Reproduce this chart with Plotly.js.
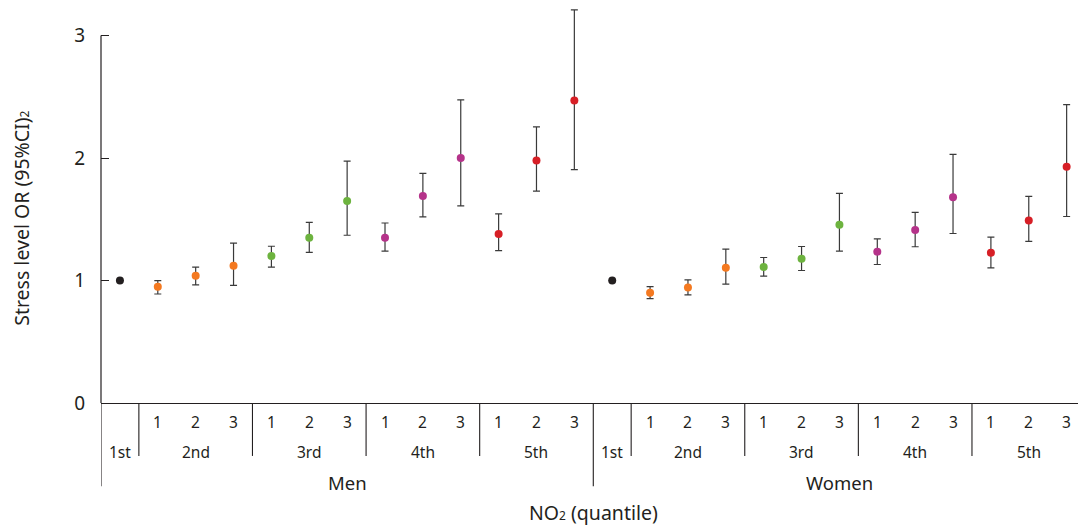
<!DOCTYPE html>
<html>
<head>
<meta charset="utf-8">
<script src="https://cdn.plot.ly/plotly-3.0.1.min.js"></script>
<style>
html,body{margin:0;padding:0;background:#fff;}
#chart{width:1078px;height:526px;}
</style>
</head>
<body>
<div id="chart"></div>
<script>
// ---- data ----
const sexes = ["Men", "Women"];
const quantiles = ["1st", "2nd", "3rd", "4th", "5th"];
const subLevels = ["1", "2", "3"];

const menOR    = [1.00, 0.95, 1.04, 1.12, 1.20, 1.35, 1.65, 1.35, 1.69, 2.00, 1.38, 1.98, 2.47];
const menLow   = [1.00, 0.89, 0.965, 0.96, 1.11, 1.23, 1.37, 1.24, 1.52, 1.61, 1.245, 1.73, 1.905];
const menHigh  = [1.00, 1.00, 1.11, 1.305, 1.28, 1.475, 1.975, 1.47, 1.875, 2.475, 1.545, 2.255, 3.21];

const womenOR   = [1.00, 0.90, 0.943, 1.105, 1.11, 1.177, 1.455, 1.235, 1.412, 1.68, 1.227, 1.49, 1.93];
const womenLow  = [1.00, 0.853, 0.883, 0.97, 1.036, 1.082, 1.24, 1.131, 1.276, 1.384, 1.104, 1.319, 1.523];
const womenHigh = [1.00, 0.951, 1.006, 1.257, 1.188, 1.278, 1.711, 1.341, 1.556, 2.03, 1.355, 1.687, 2.437];

const quantileColors = {"1st": "#231f20", "2nd": "#f47920", "3rd": "#6db33f", "4th": "#b5338a", "5th": "#d71f26"};

// ---- build categories ----
const cats = [], subText = [], qOf = [];
sexes.forEach(s => {
  quantiles.forEach(q => {
    if (q === "1st") { cats.push(s + " " + q); subText.push(""); qOf.push(q); }
    else subLevels.forEach(l => { cats.push(s + " " + q + "-" + l); subText.push(l); qOf.push(q); });
  });
});
const orAll = menOR.concat(womenOR);
const lowAll = menLow.concat(womenLow);
const highAll = menHigh.concat(womenHigh);
const colors = qOf.map(q => quantileColors[q]);

const trace = {
  type: "scatter", mode: "markers",
  x: cats, y: orAll,
  marker: {color: colors, size: 8},
  cliponaxis: false,
  error_y: {
    type: "data", symmetric: false,
    array: highAll.map((h, i) => h - orAll[i]),
    arrayminus: lowAll.map((l, i) => orAll[i] - l),
    color: "#3a3a3a", thickness: 1.2, width: 3.5
  },
  hoverinfo: "x+y"
};

// ---- annotations and separators ----
const font = {family: "Noto Sans, Open Sans, sans-serif", color: "#231f20"};
const annotations = [];
const shapes = [];
const perSex = cats.length / sexes.length;
const ySub = -0.047, yQ = -0.123, ySex = -0.201, yTitle = -0.275;
const yShort = -0.133, yLong = -0.209;

cats.forEach((c, i) => {
  if (subText[i]) annotations.push({x: i, y: ySub, xref: "x", yref: "paper", text: subText[i], showarrow: false, font: Object.assign({size: 15.5}, font), yanchor: "middle"});
});
sexes.forEach((s, si) => {
  const base = si * perSex;
  annotations.push({x: base + (perSex - 1) / 2, y: ySex, xref: "x", yref: "paper", text: s, showarrow: false, font: Object.assign({size: 18.5}, font), yanchor: "middle"});
  shapes.push({type: "line", xref: "x", yref: "paper", x0: base - 0.5, x1: base - 0.5, y0: 0, y1: yLong, line: {color: "#231f20", width: 1.1}});
  let idx = base;
  quantiles.forEach(q => {
    const n = q === "1st" ? 1 : subLevels.length;
    annotations.push({x: idx + (n - 1) / 2, y: yQ, xref: "x", yref: "paper", text: q, showarrow: false, font: Object.assign({size: 15.5}, font), yanchor: "middle"});
    if (q !== "1st") shapes.push({type: "line", xref: "x", yref: "paper", x0: idx - 0.5, x1: idx - 0.5, y0: 0, y1: yShort, line: {color: "#231f20", width: 1.1}});
    idx += n;
  });
});
// x-axis title
annotations.push({x: cats.length / 2 - 0.5, y: yTitle, xref: "x", yref: "paper", text: "NO<span style=\"font-size:12px\">2</span> (quantile)", showarrow: false, font: Object.assign({size: 19.5}, font), yanchor: "middle", borderpad: 0});
// y-axis title
annotations.push({x: -0.081, y: 0.465, xref: "paper", yref: "paper", text: "Stress level OR (95%CI)<span style=\"font-size:12px\">2</span>", textangle: -90, showarrow: false, font: Object.assign({size: 19.5}, font), xanchor: "center", yanchor: "middle"});
// y-axis line from 0 to 3
shapes.push({type: "line", xref: "paper", yref: "y", x0: 0, x1: 0, y0: 0, y1: 3, line: {color: "#231f20", width: 1.2}});

const layout = {
  width: 1078, height: 526,
  margin: {l: 101, r: 0, t: 5, b: 123},
  paper_bgcolor: "#fff", plot_bgcolor: "#fff",
  showlegend: false,
  xaxis: {
    type: "category", range: [-0.5, cats.length - 0.7],
    showticklabels: false, ticks: "", showgrid: false, zeroline: false,
    showline: true, linecolor: "#231f20", linewidth: 1.2, fixedrange: true
  },
  yaxis: {
    range: [0, 3.25], tickvals: [0, 1, 2, 3], ticktext: ["0", "1", "2", "3"],
    ticks: "inside", ticklen: 8, tickcolor: "#231f20", tickwidth: 1,
    showgrid: false, zeroline: false, showline: false,
    ticklabelstandoff: 15,
    tickfont: Object.assign({size: 19}, font), fixedrange: true
  },
  annotations: annotations,
  shapes: shapes
};

Plotly.newPlot("chart", [trace], layout, {displayModeBar: false, staticPlot: true});
</script>
</body>
</html>
